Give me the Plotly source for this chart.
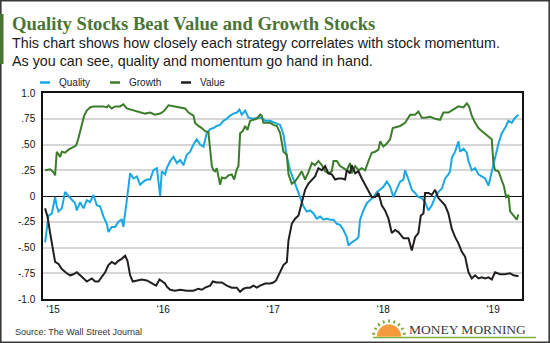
import plotly.graph_objects as go
import math

# ---------------- data (time in decimal years, correlation values) ----------------
quality_t = [2014.927, 2014.943, 2014.958, 2014.988, 2015.018, 2015.033, 2015.049, 2015.079, 2015.109, 2015.139,
             2015.170, 2015.200, 2015.215, 2015.246, 2015.276, 2015.306, 2015.336, 2015.367, 2015.397, 2015.427,
             2015.458, 2015.488, 2015.503, 2015.533, 2015.564, 2015.594, 2015.624, 2015.639, 2015.670, 2015.700,
             2015.730, 2015.761, 2015.791, 2015.821, 2015.852, 2015.882, 2015.912, 2015.943, 2015.973, 2015.988,
             2016.018, 2016.034, 2016.064, 2016.094, 2016.125, 2016.155, 2016.185, 2016.215, 2016.246, 2016.276,
             2016.306, 2016.337, 2016.367, 2016.397, 2016.428, 2016.458, 2016.488, 2016.518, 2016.549, 2016.579,
             2016.609, 2016.640, 2016.670, 2016.694, 2016.715, 2016.746, 2016.776, 2016.821, 2016.867, 2016.897,
             2016.928, 2016.973, 2017.018, 2017.064, 2017.094, 2017.125, 2017.155, 2017.185, 2017.215, 2017.246,
             2017.276, 2017.306, 2017.337, 2017.367, 2017.397, 2017.428, 2017.458, 2017.488, 2017.518, 2017.549,
             2017.579, 2017.609, 2017.640, 2017.670, 2017.685, 2017.715, 2017.746, 2017.776, 2017.791, 2017.821,
             2017.852, 2017.882, 2017.912, 2017.943, 2017.973, 2018.003, 2018.034, 2018.064, 2018.094, 2018.125,
             2018.155, 2018.185, 2018.200, 2018.231, 2018.261, 2018.291, 2018.321, 2018.352, 2018.382, 2018.412,
             2018.443, 2018.473, 2018.503, 2018.534, 2018.564, 2018.594, 2018.609, 2018.625, 2018.655, 2018.685,
             2018.700, 2018.731, 2018.761, 2018.776, 2018.806, 2018.837, 2018.867, 2018.897, 2018.928, 2018.958,
             2018.988, 2019.018, 2019.049, 2019.079, 2019.109, 2019.140, 2019.170, 2019.200, 2019.231]
quality_v = [-0.45, -0.33, -0.19, -0.17, -0.01, -0.10, -0.15, -0.12, 0.04, 0.00,
             -0.04, -0.07, -0.14, -0.06, -0.12, -0.04, -0.06, 0.01, -0.09, -0.10,
             -0.20, -0.27, -0.35, -0.30, -0.30, -0.25, -0.23, -0.30, -0.04, 0.22,
             0.17, 0.19, 0.11, 0.14, 0.16, 0.16, 0.25, 0.27, 0.00, 0.24,
             0.21, 0.27, 0.34, 0.38, 0.32, 0.35, 0.30, 0.40, 0.43, 0.50,
             0.55, 0.50, 0.48, 0.61, 0.65, 0.66, 0.68, 0.69, 0.73, 0.75,
             0.78, 0.80, 0.81, 0.84, 0.79, 0.83, 0.76, 0.75, 0.76, 0.76,
             0.73, 0.73, 0.71, 0.69, 0.60, 0.38, 0.25, 0.16, 0.09, -0.02,
             -0.10, -0.15, -0.14, -0.17, -0.22, -0.20, -0.23, -0.22, -0.23, -0.23,
             -0.27, -0.28, -0.33, -0.40, -0.48, -0.45, -0.43, -0.40, -0.23, -0.14,
             -0.07, -0.04, -0.01, 0.04, 0.06, 0.09, 0.14, 0.09, -0.01, 0.07,
             0.14, 0.16, 0.25, 0.16, 0.06, 0.03, -0.01, -0.02, -0.06, -0.14,
             -0.09, -0.01, 0.04, 0.07, 0.17, 0.21, 0.24, 0.37, 0.43, 0.53,
             0.43, 0.46, 0.42, 0.34, 0.25, 0.27, 0.21, 0.19, 0.17, 0.10,
             0.24, 0.37, 0.51, 0.61, 0.66, 0.73, 0.71, 0.76, 0.79]

growth_t = [2014.927, 2014.973, 2015.003, 2015.018, 2015.033, 2015.064, 2015.079, 2015.109, 2015.139, 2015.185,
            2015.209, 2015.230, 2015.261, 2015.282, 2015.306, 2015.336, 2015.367, 2015.458, 2015.488, 2015.503,
            2015.533, 2015.564, 2015.609, 2015.639, 2015.670, 2015.700, 2015.745, 2015.791, 2015.836, 2015.882,
            2015.927, 2015.973, 2016.003, 2016.049, 2016.094, 2016.140, 2016.200, 2016.231, 2016.276, 2016.291,
            2016.321, 2016.352, 2016.382, 2016.412, 2016.428, 2016.443, 2016.458, 2016.473, 2016.488, 2016.503,
            2016.518, 2016.534, 2016.564, 2016.594, 2016.624, 2016.646, 2016.670, 2016.685, 2016.700, 2016.724,
            2016.746, 2016.767, 2016.791, 2016.821, 2016.852, 2016.882, 2016.897, 2016.912, 2016.973, 2017.003,
            2017.034, 2017.064, 2017.094, 2017.125, 2017.140, 2017.170, 2017.200, 2017.231, 2017.261, 2017.291,
            2017.321, 2017.352, 2017.382, 2017.412, 2017.443, 2017.473, 2017.503, 2017.534, 2017.549, 2017.579,
            2017.609, 2017.640, 2017.670, 2017.700, 2017.715, 2017.746, 2017.776, 2017.806, 2017.837, 2017.867,
            2017.897, 2017.928, 2017.958, 2017.973, 2018.003, 2018.034, 2018.064, 2018.088, 2018.124, 2018.155,
            2018.200, 2018.246, 2018.291, 2018.321, 2018.352, 2018.382, 2018.427, 2018.473, 2018.518, 2018.549,
            2018.594, 2018.640, 2018.685, 2018.731, 2018.761, 2018.782, 2018.806, 2018.837, 2018.867, 2018.897,
            2018.928, 2018.958, 2018.988, 2019.003, 2019.018, 2019.049, 2019.079, 2019.100, 2019.118, 2019.140,
            2019.155, 2019.185, 2019.215, 2019.230]
growth_v = [0.25, 0.26, 0.23, 0.20, 0.43, 0.38, 0.43, 0.42, 0.45, 0.48,
            0.49, 0.56, 0.71, 0.78, 0.83, 0.86, 0.87, 0.87, 0.86, 0.88,
            0.85, 0.87, 0.87, 0.89, 0.85, 0.84, 0.83, 0.81, 0.80, 0.81,
            0.79, 0.80, 0.82, 0.88, 0.87, 0.86, 0.85, 0.81, 0.78, 0.71,
            0.68, 0.66, 0.63, 0.62, 0.48, 0.29, 0.25, 0.24, 0.27, 0.20,
            0.11, 0.18, 0.17, 0.20, 0.21, 0.16, 0.26, 0.29, 0.61, 0.63,
            0.68, 0.64, 0.73, 0.74, 0.75, 0.79, 0.78, 0.71, 0.71, 0.69,
            0.68, 0.61, 0.43, 0.40, 0.21, 0.12, 0.14, 0.19, 0.24, 0.16,
            0.23, 0.32, 0.30, 0.34, 0.30, 0.24, 0.22, 0.24, 0.34, 0.34,
            0.29, 0.27, 0.25, 0.32, 0.22, 0.29, 0.25, 0.27, 0.25, 0.34,
            0.42, 0.43, 0.45, 0.53, 0.48, 0.51, 0.55, 0.66, 0.67, 0.68,
            0.71, 0.79, 0.79, 0.82, 0.76, 0.76, 0.77, 0.75, 0.74, 0.81,
            0.81, 0.84, 0.87, 0.86, 0.90, 0.87, 0.78, 0.71, 0.66, 0.63,
            0.60, 0.58, 0.55, 0.32, 0.25, 0.24, 0.16, 0.09, -0.01, 0.01,
            -0.15, -0.19, -0.23, -0.18]

value_t = [2014.927, 2014.949, 2014.973, 2014.997, 2015.018, 2015.049, 2015.079, 2015.124, 2015.155, 2015.185,
           2015.215, 2015.246, 2015.276, 2015.306, 2015.352, 2015.382, 2015.412, 2015.443, 2015.473, 2015.503,
           2015.533, 2015.564, 2015.594, 2015.624, 2015.655, 2015.676, 2015.700, 2015.724, 2015.761, 2015.806,
           2015.852, 2015.897, 2015.936, 2015.967, 2015.997, 2016.018, 2016.034, 2016.064, 2016.109, 2016.155,
           2016.215, 2016.276, 2016.321, 2016.352, 2016.382, 2016.428, 2016.452, 2016.488, 2016.534, 2016.579,
           2016.624, 2016.670, 2016.700, 2016.731, 2016.761, 2016.791, 2016.821, 2016.852, 2016.882, 2016.928,
           2016.973, 2017.003, 2017.027, 2017.049, 2017.064, 2017.094, 2017.125, 2017.140, 2017.170, 2017.200,
           2017.231, 2017.261, 2017.291, 2017.321, 2017.352, 2017.382, 2017.412, 2017.443, 2017.473, 2017.503,
           2017.534, 2017.564, 2017.594, 2017.625, 2017.655, 2017.670, 2017.700, 2017.715, 2017.746, 2017.776,
           2017.806, 2017.837, 2017.867, 2017.897, 2017.928, 2017.958, 2017.988, 2018.018, 2018.049, 2018.079,
           2018.109, 2018.140, 2018.155, 2018.185, 2018.231, 2018.261, 2018.291, 2018.321, 2018.343, 2018.367,
           2018.382, 2018.412, 2018.443, 2018.473, 2018.503, 2018.534, 2018.564, 2018.594, 2018.625, 2018.655,
           2018.685, 2018.715, 2018.746, 2018.776, 2018.806, 2018.837, 2018.867, 2018.897, 2018.928, 2018.958,
           2018.988, 2019.018, 2019.064, 2019.109, 2019.155, 2019.185, 2019.231]
value_v = [-0.12, -0.20, -0.36, -0.53, -0.64, -0.66, -0.71, -0.75, -0.77, -0.76,
           -0.74, -0.77, -0.80, -0.83, -0.80, -0.83, -0.83, -0.79, -0.74, -0.67,
           -0.64, -0.66, -0.63, -0.61, -0.58, -0.63, -0.77, -0.83, -0.82, -0.81,
           -0.82, -0.85, -0.87, -0.81, -0.83, -0.85, -0.88, -0.91, -0.92, -0.91,
           -0.92, -0.92, -0.90, -0.91, -0.89, -0.87, -0.83, -0.84, -0.84, -0.87,
           -0.89, -0.89, -0.93, -0.90, -0.89, -0.89, -0.87, -0.89, -0.87, -0.85,
           -0.85, -0.84, -0.82, -0.77, -0.75, -0.67, -0.64, -0.43, -0.27, -0.22,
           -0.19, -0.07, 0.06, 0.12, 0.16, 0.19, 0.27, 0.25, 0.29, 0.22,
           0.21, 0.16, 0.17, 0.17, 0.16, 0.25, 0.22, 0.30, 0.22, 0.24,
           0.17, 0.11, 0.06, -0.01, -0.01, 0.03, -0.09, -0.14, -0.22, -0.36,
           -0.33, -0.35, -0.37, -0.41, -0.41, -0.53, -0.40, -0.36, -0.19, -0.17,
           0.03, 0.03, 0.01, 0.06, -0.02, -0.06, -0.09, -0.17, -0.32, -0.40,
           -0.46, -0.54, -0.59, -0.74, -0.80, -0.77, -0.80, -0.79, -0.80, -0.79,
           -0.81, -0.74, -0.76, -0.76, -0.75, -0.77, -0.78]

year_ticks = [2015, 2016, 2017, 2018, 2019]
year_labels = ["\u201815", "\u201816", "\u201817", "\u201818", "\u201819"]
y_ticks = [-1.0, -0.75, -0.5, -0.25, 0, 0.25, 0.5, 0.75, 1.0]
y_labels = ["-1.0", "-.75", "-.50", "-.25", "0", ".25", ".50", ".75", "1.0"]

series_names = ["Quality", "Growth", "Value"]
series_colors = ["#1aa7e4", "#3b7d2a", "#231f20"]

# ---------------- layout geometry ----------------
W, H = 550, 343
L, R, T, B = 43, 28, 93, 44
PW, PH = W - L - R, H - T - B


def px(x):
    return (x - L) / PW


def py(y):
    return (H - B - y) / PH


fig = go.Figure()
for t, v, name, col in zip([quality_t, growth_t, value_t], [quality_v, growth_v, value_v],
                           series_names, series_colors):
    fig.add_trace(go.Scatter(x=t, y=v, mode="lines", name=name, showlegend=False,
                             line=dict(color=col, width=2)))

shapes = []
annotations = []

# outer frame
shapes.append(dict(type="rect", xref="paper", yref="paper", x0=px(0.8), x1=px(549.2), y0=py(342.2), y1=py(0.8),
                   line=dict(color="#3a3a3a", width=1.6), layer="below"))
# green accent bar
shapes.append(dict(type="rect", xref="paper", yref="paper", x0=px(0), x1=px(3.5), y0=py(64), y1=py(14),
                   line=dict(width=0), fillcolor="#4b7533"))

font_sans = "Liberation Sans, Arial, sans-serif"
annotations.append(dict(xref="paper", yref="paper", x=px(10), y=py(23.5), xanchor="left", yanchor="middle",
                        text="<b>Quality Stocks Beat Value and Growth Stocks</b>", showarrow=False,
                        font=dict(family="Liberation Serif, DejaVu Serif, serif", size=18.6, color="#4b7533")))
annotations.append(dict(xref="paper", yref="paper", x=px(10), y=py(43), xanchor="left", yanchor="middle",
                        text="This chart shows how closely each strategy correlates with stock momentum.",
                        showarrow=False, font=dict(family=font_sans, size=14.3, color="#1a1a1a")))
annotations.append(dict(xref="paper", yref="paper", x=px(10), y=py(61), xanchor="left", yanchor="middle",
                        text="As you can see, quality and momentum go hand in hand.",
                        showarrow=False, font=dict(family=font_sans, size=14.3, color="#1a1a1a")))

# manual legend
leg_x = [40, 110, 181]
for lx, name, col in zip(leg_x, series_names, series_colors):
    shapes.append(dict(type="line", xref="paper", yref="paper", x0=px(lx), x1=px(lx + 10), y0=py(82.5), y1=py(82.5),
                       line=dict(color=col, width=2.5)))
    annotations.append(dict(xref="paper", yref="paper", x=px(lx + 17), y=py(82.5), xanchor="left", yanchor="middle",
                            text=name, showarrow=False, font=dict(family=font_sans, size=10, color="#222")))

# source
annotations.append(dict(xref="paper", yref="paper", x=px(13), y=py(332), xanchor="left", yanchor="middle",
                        text="Source: The Wall Street Journal", showarrow=False,
                        font=dict(family=font_sans, size=9, color="#333")))

# Money Morning logo
annotations.append(dict(xref="paper", yref="paper", x=px(407), y=py(329), xanchor="left", yanchor="middle",
                        text="MONEY MORNING", showarrow=False,
                        font=dict(family="Liberation Serif, DejaVu Serif, serif", size=13.5, color="#3a3a3a")))
shapes.append(dict(type="line", xref="paper", yref="paper", x0=px(373), x1=px(536), y0=py(337.5), y1=py(337.5),
                   line=dict(color="#7cae3a", width=1.6)))
# sun semicircle
cx, cy, r = 389, 336.5, 12
sun_path = "M {:.5f},{:.5f} ".format(px(cx - r), py(cy))
for k in range(1, 21):
    a = math.pi - math.pi * k / 20
    sun_path += "L {:.5f},{:.5f} ".format(px(cx + r * math.cos(a)), py(cy - r * math.sin(a)))
sun_path += "Z"
shapes.append(dict(type="path", xref="paper", yref="paper", path=sun_path, fillcolor="#f39a3c",
                   line=dict(color="#f2b35a", width=0.5)))
for k in range(9):
    a = math.pi * (k + 0.5) / 9
    x0, y0 = cx + (r + 2) * math.cos(a), cy - (r + 2) * math.sin(a)
    x1, y1 = cx + (r + 5) * math.cos(a), cy - (r + 5) * math.sin(a)
    shapes.append(dict(type="line", xref="paper", yref="paper", x0=px(x0), x1=px(x1), y0=py(y0), y1=py(y1),
                       line=dict(color="#7cae3a", width=2)))

fig.update_layout(
    width=W, height=H,
    margin=dict(l=L, r=R, t=T, b=B),
    paper_bgcolor="white", plot_bgcolor="white",
    shapes=shapes, annotations=annotations,
    showlegend=False,
    xaxis=dict(range=[2014.908, 2019.263], tickvals=year_ticks, ticktext=year_labels,
               showgrid=False, zeroline=False, showline=True, mirror=True, linecolor="#111", linewidth=1.5,
               ticks="", tickfont=dict(family=font_sans, size=10, color="#111"), fixedrange=True),
    yaxis=dict(range=[-1.0, 1.0], tickvals=y_ticks, ticktext=y_labels,
               showgrid=True, gridcolor="#d6d6d6", gridwidth=1.5,
               zeroline=True, zerolinecolor="#111", zerolinewidth=1,
               showline=True, mirror=True, linecolor="#111", linewidth=1.5,
               ticks="", ticklabelstandoff=4, tickfont=dict(family=font_sans, size=10, color="#111"), fixedrange=True),
)

fig.write_html("out.html")
